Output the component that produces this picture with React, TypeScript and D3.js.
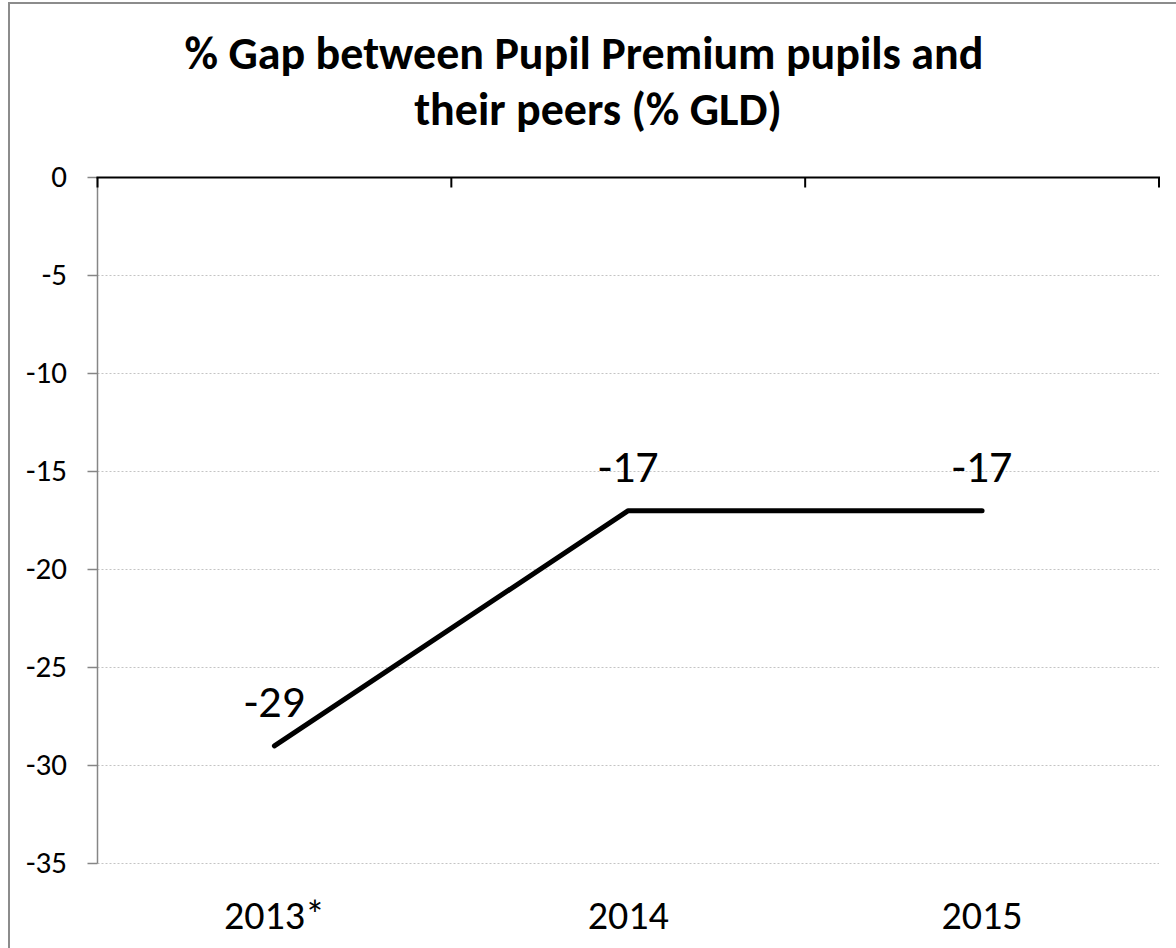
import * as d3 from "d3";
import { useEffect, useRef } from "react";

// chart data
const categories = ["2013*", "2014", "2015"];
const gapValues = [-29, -17, -17];
const yTicks = [0, -5, -10, -15, -20, -25, -30, -35];
const titleLines = ["% Gap between Pupil Premium pupils and", "their peers (% GLD)"];

const WIDTH = 1176;
const HEIGHT = 948;
const FONT = "Carlito, Calibri, Lato, sans-serif";

export default function App() {
  const svgRef = useRef<SVGSVGElement>(null);

  useEffect(() => {
    if (!svgRef.current) return;
    const svg = d3.select(svgRef.current);
    svg.selectAll("*").remove();

    const plot = { left: 97.5, right: 1159, top: 177.5, bottom: 863.5 };

    const x = d3
      .scaleBand<string>()
      .domain(categories)
      .range([plot.left, plot.right])
      .padding(0);
    const y = d3.scaleLinear().domain([-35, 0]).range([plot.bottom, plot.top]);
    const cx = (c: string) => (x(c) ?? 0) + x.bandwidth() / 2;
    const fmt = (v: number) => String(v); // plain hyphen, not unicode minus

    // outer chart border (runs off the right/bottom edges)
    svg
      .append("rect")
      .attr("x", 9)
      .attr("y", 3)
      .attr("width", 1300)
      .attr("height", 1100)
      .attr("fill", "white")
      .attr("stroke", "#8c8c8c")
      .attr("stroke-width", 2);

    // title, each line centred by Excel separately
    svg
      .append("g")
      .selectAll("text")
      .data(titleLines)
      .enter()
      .append("text")
      .attr("x", (_, i) => (i === 0 ? 584 : 598))
      .attr("y", (_, i) => 69 + i * 56)
      .attr("text-anchor", "middle")
      .style("font-family", FONT)
      .style("font-weight", "700")
      .style("font-size", "46px")
      .text((d) => d);

    // dotted gridlines
    svg
      .append("g")
      .selectAll("line")
      .data(yTicks.filter((t) => t !== 0))
      .enter()
      .append("line")
      .attr("x1", plot.left)
      .attr("x2", plot.right)
      .attr("y1", (d) => y(d))
      .attr("y2", (d) => y(d))
      .attr("stroke", "#c4c4c4")
      .attr("stroke-width", 1)
      .attr("stroke-dasharray", "2,2");

    // y axis
    const yAxis = svg.append("g");
    yAxis
      .append("line")
      .attr("x1", plot.left)
      .attr("x2", plot.left)
      .attr("y1", plot.top)
      .attr("y2", plot.bottom)
      .attr("stroke", "#868686")
      .attr("stroke-width", 1.5);
    yAxis
      .selectAll("line.tick")
      .data(yTicks)
      .enter()
      .append("line")
      .attr("class", "tick")
      .attr("x1", plot.left - 10)
      .attr("x2", plot.left)
      .attr("y1", (d) => y(d))
      .attr("y2", (d) => y(d))
      .attr("stroke", "#868686")
      .attr("stroke-width", 1.5);
    yAxis
      .selectAll("text")
      .data(yTicks)
      .enter()
      .append("text")
      .attr("x", 67)
      .attr("y", (d) => y(d) + 9.5)
      .attr("text-anchor", "end")
      .style("font-family", FONT)
      .style("font-size", "31px")
      .text((d) => fmt(d));

    // x axis sits at zero (top of plot)
    const xAxis = svg.append("g");
    xAxis
      .append("line")
      .attr("x1", plot.left - 1)
      .attr("x2", plot.right + 1)
      .attr("y1", y(0))
      .attr("y2", y(0))
      .attr("stroke", "#000")
      .attr("stroke-width", 2);
    const boundaries = [...categories.map((c) => x(c) ?? 0), plot.right];
    xAxis
      .selectAll("line.tick")
      .data(boundaries)
      .enter()
      .append("line")
      .attr("class", "tick")
      .attr("x1", (d) => d)
      .attr("x2", (d) => d)
      .attr("y1", y(0))
      .attr("y2", y(0) + 10)
      .attr("stroke", "#000")
      .attr("stroke-width", 2);

    // category labels at the bottom
    svg
      .append("g")
      .selectAll("text")
      .data(categories)
      .enter()
      .append("text")
      .attr("x", (d) => cx(d))
      .attr("y", 929)
      .attr("text-anchor", "middle")
      .style("font-family", FONT)
      .style("font-size", "40px")
      .text((d) => d);

    // series line
    const points = categories.map((c, i) => [cx(c), y(gapValues[i])] as [number, number]);
    svg
      .append("path")
      .attr("d", d3.line()(points))
      .attr("fill", "none")
      .attr("stroke", "#000")
      .attr("stroke-width", 5)
      .attr("stroke-linecap", "round")
      .attr("stroke-linejoin", "round");

    // data labels
    svg
      .append("g")
      .selectAll("text")
      .data(gapValues)
      .enter()
      .append("text")
      .attr("x", (_, i) => cx(categories[i]))
      .attr("y", (d) => y(d) - 29)
      .attr("text-anchor", "middle")
      .style("font-family", FONT)
      .style("font-size", "46px")
      .text((d) => fmt(d));
  }, []);

  return (
    <div style={{ position: "absolute", left: 0, top: 0 }}>
      <svg ref={svgRef} width={WIDTH} height={HEIGHT} style={{ display: "block" }} />
    </div>
  );
}
